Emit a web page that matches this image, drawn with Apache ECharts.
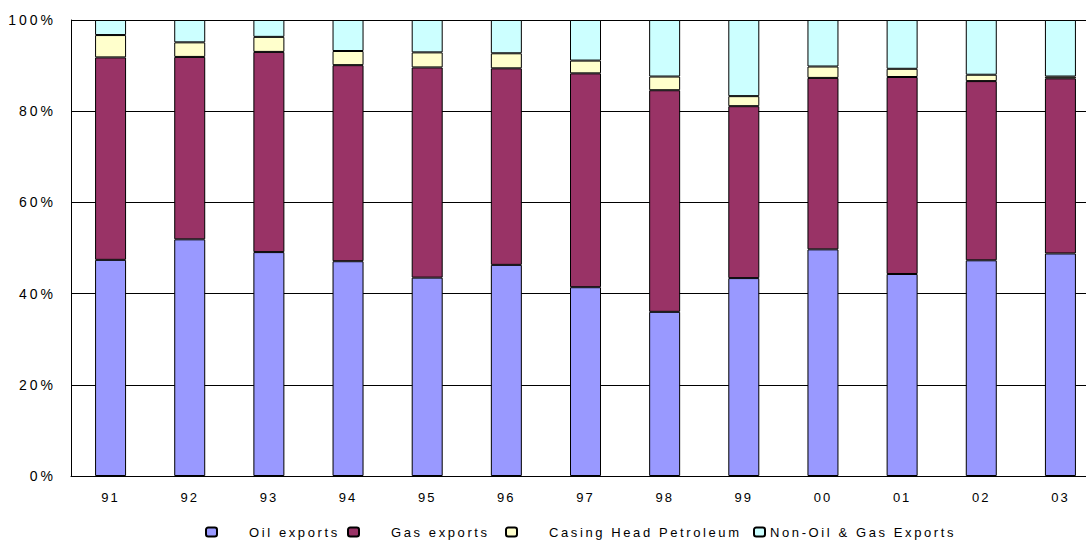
<!DOCTYPE html>
<html>
<head>
<meta charset="utf-8">
<script src="https://cdn.jsdelivr.net/npm/echarts@6/dist/echarts.min.js"></script>
<style>
  html, body { margin: 0; padding: 0; background: #fff; }
  #chart { width: 1086px; height: 540px; overflow: hidden; }
  /* spaced-out lettering for all chart text */
  #chart text { letter-spacing: 2.6px; }
  #chart text[text-anchor="end"] { letter-spacing: 3px; }
  #chart text[text-anchor="middle"] { letter-spacing: 2px; }
</style>
</head>
<body>
<div id="chart"></div>
<script>
// Export structure by year (share of total, %)
const years = ['91', '92', '93', '94', '95', '96', '97', '98', '99', '00', '01', '02', '03'];
const oilExports    = [47.4, 51.9, 49.1, 47.1, 43.5, 46.3, 41.4, 36.0, 43.4, 49.7, 44.3, 47.3, 48.8];
const gasExports    = [44.4, 40.0, 43.9, 43.0, 46.1, 43.1, 46.9, 48.6, 37.7, 37.6, 43.2, 39.3, 38.4];
const casingHead    = [4.9, 3.2, 3.3, 3.1, 3.3, 3.3, 2.8, 3.0, 2.2, 2.5, 1.8, 1.4, 0.4];
const nonOilGas     = [3.3, 4.9, 3.7, 6.8, 7.1, 7.3, 8.9, 12.4, 16.7, 10.2, 10.7, 12.0, 12.4];
const yTicks = [0, 20, 40, 60, 80, 100];

const seriesDefs = [
  { name: 'Oil exports', data: oilExports, color: '#9999FF', legendLeft: 205, pad: 27 },
  { name: 'Gas exports', data: gasExports, color: '#993366', legendLeft: 347, pad: 27 },
  { name: 'Casing Head Petroleum', data: casingHead, color: '#FFFFCC', legendLeft: 505, pad: 27 },
  { name: 'Non-Oil & Gas Exports', data: nonOilGas, color: '#CCFFFF', legendLeft: 753, pad: 0 }
];

const font = 'Liberation Sans, Arial, sans-serif';

const chart = echarts.init(document.getElementById('chart'), null, { renderer: 'svg' });

chart.setOption({
  animation: false,
  backgroundColor: '#fff',
  // plot area runs slightly past the right edge of the canvas
  grid: { left: 71, top: 20, bottom: 64, right: -14, outerBoundsMode: 'none', containLabel: false },
  legend: seriesDefs.map(s => ({
    data: [s.name],
    left: s.legendLeft,
    top: 524,
    padding: 0,
    itemWidth: 11,
    itemHeight: 9,
    itemGap: 0,
    selectedMode: false,
    textStyle: { fontFamily: font, fontSize: 13, color: '#000', lineHeight: 16, padding: [0, 0, 0, s.pad] }
  })),
  xAxis: {
    type: 'category',
    data: years,
    boundaryGap: true,
    axisLine: { show: true, lineStyle: { color: '#000', width: 1 } },
    axisTick: { show: false },
    axisLabel: { color: '#000', fontFamily: font, fontSize: 13, margin: 15 },
    splitLine: { show: false }
  },
  yAxis: {
    type: 'value',
    min: yTicks[0],
    max: yTicks[yTicks.length - 1],
    interval: yTicks[1] - yTicks[0],
    axisLine: { show: true, lineStyle: { color: '#000', width: 1 } },
    axisTick: { show: false },
    axisLabel: { color: '#000', fontFamily: font, fontSize: 14, margin: 15, formatter: '{value}%' },
    splitLine: { show: true, lineStyle: { color: '#000', width: 1 } }
  },
  series: seriesDefs.map(s => ({
    name: s.name,
    type: 'bar',
    stack: 'share',
    data: s.data,
    barWidth: 31,
    itemStyle: { color: s.color, borderColor: '#000', borderWidth: 1 },
    emphasis: { disabled: true }
  }))
});
</script>
</body>
</html>
